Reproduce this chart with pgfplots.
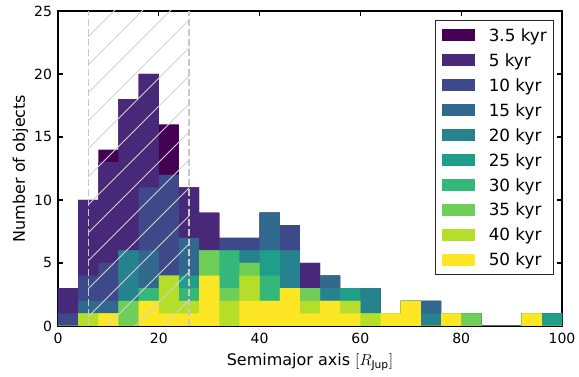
\documentclass[border=0pt]{standalone}
\usepackage{fontspec}
\setmainfont{DejaVu Sans}
\usepackage{pgfplots}
\usepackage{pgfplotstable}
\pgfplotsset{compat=1.18}
\usetikzlibrary{patterns.meta}

% viridis, one shade per snapshot
\definecolor{v1}{HTML}{440154}
\definecolor{v2}{HTML}{482878}
\definecolor{v3}{HTML}{3E4989}
\definecolor{v4}{HTML}{31688E}
\definecolor{v5}{HTML}{26828E}
\definecolor{v6}{HTML}{1F9E89}
\definecolor{v7}{HTML}{35B779}
\definecolor{v8}{HTML}{6ECE58}
\definecolor{v9}{HTML}{B5DE2B}
\definecolor{v10}{HTML}{FDE725}
\definecolor{hatchgray}{HTML}{D2D2D2}
\definecolor{dashgray}{HTML}{C8C8C8}

\pgfplotsset{
  histo/.style={ybar interval, draw=none, fill=#1,
    legend image code/.code={\fill[##1] (0pt,-4.45pt) rectangle (25.2pt,4.45pt);}},
}

% counts per 4 R_Jup bin (left bin edge in x); last row closes the intervals
\pgfplotstableread{
x   t3p5 t5 t10 t15 t20 t25 t30 t35 t40 t50
0    3   3   1   0   0   0   0   0   0   0
4   10  10   4   2   1   1   1   1   1   0
8   14  13   5   2   1   1   1   1   1   1
12  18  18   6   6   6   2   2   2   0   0
16  20  20  11   6   3   3   3   2   2   2
20  16  12  12   4   4   4   4   4   4   1
24  11  11   7   7   4   4   3   2   2   1
28   9   9   6   6   6   6   6   6   4   4
32   7   7   7   6   6   6   6   3   2   0
36   7   7   7   6   6   5   5   5   4   2
40   9   9   9   9   6   6   4   2   2   2
44   8   8   8   6   6   3   3   3   3   3
48   5   5   3   3   3   3   3   3   2   1
52   4   4   4   4   3   2   2   2   2   2
56   3   3   3   3   3   3   2   2   2   1
60   3   3   3   3   3   1   1   1   1   0
64   1   1   1   1   1   1   1   1   1   1
68   2   2   2   2   2   2   2   2   2   2
72   2   2   2   2   1   0   0   0   0   0
76   1   1   1   1   1   1   1   1   1   1
80   1   1   1   1   1   1   1   1   0   0
84   0   0   0   0   0   0   0   0   0   0
88   0   0   0   0   0   0   0   0   0   0
92   1   1   1   1   1   1   1   1   1   1
96   1   1   1   1   1   1   0   0   0   0
100  0   0   0   0   0   0   0   0   0   0
}\counts

\begin{document}
\begin{tikzpicture}
\useasboundingbox (-43.5pt,-38.25pt) rectangle (390.75pt,244.5pt);
\begin{axis}[
  at={(0,0)}, anchor=south west,
  scale only axis, width=378pt, height=236.25pt,
  xmin=0, xmax=100, ymin=0, ymax=25,
  xtick={0,20,...,100}, ytick={0,5,...,25},
  tick align=inside, major tick length=3.5pt,
  axis line style={black, line width=0.8pt},
  every tick/.style={black, line width=0.8pt},
  /pgf/number format/assume math mode=true,
  tick label style={font=\fontsize{10.5}{12.6}\selectfont},
  xticklabel style={yshift=-1.75pt},
  yticklabel style={xshift=-1pt},
  every axis x label/.style={at={(axis description cs:0.5,-0.126)}, anchor=base,
    font=\fontsize{12}{14.4}\selectfont},
  every axis y label/.style={at={(axis description cs:-0.0655,0.5)}, rotate=90, anchor=base,
    font=\fontsize{12}{14.4}\selectfont},
  xlabel={Semimajor axis $[R_{\mathrm{Jup}}]$},
  ylabel={Number of objects},
  legend cell align=left,
  legend style={at={(1,1)}, anchor=north east, xshift=-6pt, yshift=-6.75pt,
    draw=black!85, line width=0.75pt, fill=white,
    inner xsep=5pt, inner ysep=6.5pt, row sep=9.5pt, column sep=10pt,
    font=\fontsize{12.6}{15}\selectfont,
    nodes={inner sep=0pt, text height=9.2pt, text depth=0pt}},
]
\addplot[histo=v1]  table[x=x, y=t3p5] {\counts};
\addlegendentry{3.5 kyr}
\addplot[histo=v2]  table[x=x, y=t5]   {\counts};
\addlegendentry{5 kyr}
\addplot[histo=v3]  table[x=x, y=t10]  {\counts};
\addlegendentry{10 kyr}
\addplot[histo=v4]  table[x=x, y=t15]  {\counts};
\addlegendentry{15 kyr}
\addplot[histo=v5]  table[x=x, y=t20]  {\counts};
\addlegendentry{20 kyr}
\addplot[histo=v6]  table[x=x, y=t25]  {\counts};
\addlegendentry{25 kyr}
\addplot[histo=v7]  table[x=x, y=t30]  {\counts};
\addlegendentry{30 kyr}
\addplot[histo=v8]  table[x=x, y=t35]  {\counts};
\addlegendentry{35 kyr}
\addplot[histo=v9]  table[x=x, y=t40]  {\counts};
\addlegendentry{40 kyr}
\addplot[histo=v10] table[x=x, y=t50]  {\counts};
\addlegendentry{50 kyr}

% excluded region, hatched
\addplot[forget plot, draw=none, fill opacity=0.75,
  pattern={Lines[angle=45, distance=14.85pt, line width=0.75pt]},
  pattern color=hatchgray] coordinates {(6,25) (26,25)} \closedcycle;
\addplot[forget plot, dashgray, line width=1pt, dash pattern=on 5pt off 2.5pt]
  coordinates {(6,0) (6,25)};
\addplot[forget plot, dashgray, line width=1pt, dash pattern=on 5pt off 2.5pt]
  coordinates {(26,0) (26,25)};
\end{axis}
\end{tikzpicture}
\end{document}
